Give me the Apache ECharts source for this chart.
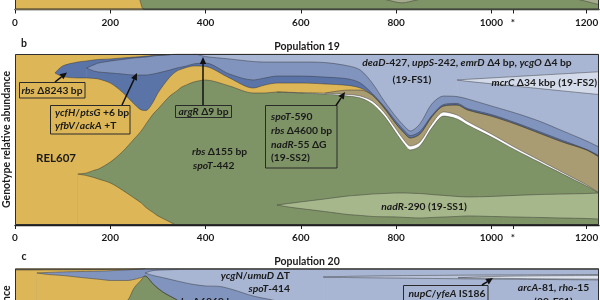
<!DOCTYPE html>
<html><head><meta charset="utf-8">
<script src="https://cdn.jsdelivr.net/npm/echarts@6/dist/echarts.min.js"></script>
<style>html,body{margin:0;padding:0;background:#fff}#c{width:600px;height:300px}</style>
</head><body><div id="c"></div>
<script>
const N = null;
// ---------- Panel a (only its bottom strip is in view) ----------
const gensA = [0,150,230,262,271,300,700,760,781,812,844,870,1100,1170,1187,1210,1226];
const aLightTop    = [14,14,14,14,14,14,14,14,14,14,14,14,14,14,14,14,14];
const aLightBottom = [9,9,9,9,9,9,9,6.8,5.6,3.9,5.6,7.0,8.5,6.5,5.6,4.0,2.9];
const aRel607      = [100,85,30,5.6,0,0,0,0,0,0,0,0,0,0,0,0,0];

// ---------- Panel b : Population 19 (upper boundary of each band, %) ----------
const gensB = [0,84,100,132,150,165,175,200,225,250,265,275,290,300,325,340,350,360,375,400,450,500,525,550,575,600,650,700,725,750,775,800,815,830,850,875,900,928,950,1000,1050,1100,1150,1200,1226];
const bRbs8243Top = [N,88.9,93.0,95.3,95.9,96.5,96.8,97.1,97.7,98.2,98.5,98.8,99.1,99.3,99.6,100,100,100,100,100,100,100,100,100,100,100,100,100,100,100,100,100,100,100,100,100,100,100,100,100,100,100,100,100,100];
const bFs1Top = [N,N,N,N,N,N,N,N,N,N,N,N,N,N,N,N,N,N,100,100,100,100,100,100,100,100,100,100,100,100,100,100,100,100,100,100,100,100,100,100,100,100,100,100,100];
const bFs2Top = [N,N,N,N,N,N,N,N,N,N,N,N,N,N,N,N,N,N,N,N,N,N,N,N,N,N,N,N,N,N,N,N,N,N,N,N,N,84.8,85.2,86.0,86.8,87.6,88.4,89.2,89.6];
const bFs2Bottom = [N,N,N,N,N,N,N,N,N,N,N,N,N,N,N,N,N,N,N,N,N,N,N,N,N,N,N,N,N,N,N,N,N,N,N,N,N,84.8,84.0,82.6,81.2,79.8,78.4,77.0,76.3];
const bYcfhTop = [N,N,N,N,91.8,93.6,94.7,95.9,96.8,97.7,98.0,98.2,98.8,99.1,99.6,100,100,100,100,98.5,97.1,95.6,95.3,95.3,95.3,95.3,95.0,93.0,90.6,83.0,72.5,63.2,58.5,55.0,59.1,70.8,75.4,75.1,73.7,69.6,65.5,60.8,55.0,49.1,45.6];
const bYcfhBottom = [N,N,N,N,91.8,90.1,89.5,88.9,88.3,87.7,87.7,87.7,88.3,88.9,90.6,91.8,92.4,93.0,94.2,94.7,88.3,84.8,86.0,87.1,87.1,87.1,86.5,85.4,83.0,76.9,69.3,60.5,55.8,52.3,54.7,64.0,70.5,71.1,68.1,64.6,59.9,54.7,49.4,44.2,40.6];
const bRel607Mid = [N,88.9,86.8,86.0,86.0,85.7,85.4,83.0,77.8,70.8,67.3,67.0,71.9,77.2,86.5,90.1,91.2,92.1,93.0,92.7,86.0,80.1,81.9,83.0,83.0,83.0,82.5,81.6,80.1,76.0,68.4,59.1,54.4,50.9,53.2,63.2,69.6,70.2,67.3,63.7,59.1,53.8,48.5,43.9,39.8];
const bSs2Top = [N,N,N,N,N,N,N,N,N,N,N,N,N,N,N,N,N,N,N,N,N,N,N,N,N,N,77.1,78.9,78.9,76.0,68.4,59.1,54.4,50.9,53.2,63.2,69.6,70.2,67.3,63.7,59.1,53.8,48.5,43.9,39.8];
const bWhiteTop = [N,N,N,N,N,N,N,N,N,N,N,N,N,N,N,N,N,N,N,N,N,N,N,77.8,77.6,77.4,77.1,76.3,75.4,72.5,65.8,56.1,50.3,46.2,48.5,59.1,66.1,64.3,60.5,53.2,45.3,38.0,30.7,23.4,18.7];
const bGreenTop = [N,N,N,29.8,30.4,31.9,32.7,36.8,42.7,50.3,55.0,59.1,64.9,67.8,75.4,78.4,80.7,81.9,83.6,84.8,81.3,77.2,77.2,77.8,77.5,77.2,76.6,75.4,74.3,70.8,63.7,53.8,48.0,43.9,46.2,56.7,63.7,62.0,58.5,51.5,43.9,36.8,29.8,22.8,18.7];
const bNadrTop = [N,N,N,N,N,N,N,N,N,N,N,N,N,N,N,N,N,N,N,N,N,N,N,11.7,12.6,13.5,15.2,17.0,17.5,18.1,18.4,18.7,18.7,18.6,18.4,17.8,17.3,16.7,16.4,16.7,17.3,17.8,18.1,18.4,18.7];
const bNadrBottom = [N,N,N,N,N,N,N,N,N,N,N,N,N,N,N,N,N,N,N,N,N,N,N,11.7,10.5,9.6,7.9,6.1,5.6,5.0,4.8,4.7,4.5,4.3,4.1,4.4,4.7,5.0,5.3,5.0,4.7,4.4,4.1,3.8,3.5];
const bRel607Low = [N,N,N,29.8,28.9,27.8,26.9,24.6,20.5,15.8,12.9,10.2,7.3,5.3,1.8,0,0,0,0,0,0,0,0,0,0,0,0,0,0,0,0,0,0,0,0,0,0,0,0,0,0,0,0,0,0];

// ---------- Panel c : Population 20 (top part in view) ----------
const gensC = [0,46,70,100,150,180,200,237,250,265,273,290,310,340,370,400,430,460,500,550,600,647,700,800,900,930,1000,1100,1226];
const cStripTop = [100,100,100,100,100,100,100,100,100,100,100,N,N,N,N,N,N,N,N,N,N,N,N,N,N,N,N,N,N];
const cStripBottom = [99.1,99.1,99.2,99.2,99.3,99.4,99.5,99.7,99.8,99.9,100,N,N,N,N,N,N,N,N,N,N,N,N,N,N,N,N,N,N];
const cBlueTop = [N,97.4,97.7,98.0,98.3,98.5,98.7,99.2,99.4,99.7,100,100,100,100,100,100,100,100,100,100,100,100,100,100,100,100,100,100,100];
const cFs1Top = [N,N,N,N,N,N,N,N,N,N,97.4,98.8,99.1,99.4,99.5,99.5,99.5,99.5,99.5,99.5,99.5,99.5,99.5,99.5,99.5,99.5,99.5,99.5,99.5];
const cS1Top = [N,N,N,N,N,N,N,N,N,N,N,N,N,N,N,N,N,N,N,N,N,95.0,95.4,95.8,96.0,96.1,96.2,96.3,96.5];
const cS2Top = [N,N,N,N,N,N,N,N,N,N,N,N,N,N,N,N,N,N,N,N,N,N,N,N,N,94.6,95.3,95.7,95.9];
const cS2Bottom = [N,N,N,N,N,N,N,N,N,N,N,N,N,N,N,N,N,N,N,N,N,N,N,N,N,94.6,94.3,94.0,93.8];
const cS1Bottom = [N,N,N,N,N,N,N,N,N,N,N,N,N,N,N,N,N,N,N,N,N,95.0,94.7,94.4,94.1,94.0,93.8,93.6,93.3];
const cFs1Bottom = [N,N,N,N,N,N,N,N,N,N,97.4,95.9,94.7,92.7,90.9,89.8,89.5,87.4,83.9,81.0,76.9,73,70,65,60,58.5,55,50,45];
const cBlueBottom = [N,97.4,96.5,95.9,94.4,93.6,93.0,93.0,93.6,94.7,95.6,90.9,86.3,81.6,76,72,68,65,60,55,50,47,44,40,36,35,33,30,27];
const cGreenTop = [N,N,N,N,N,65,72,81.6,88.6,93.3,95.6,90.9,86.3,81.6,76,72,68,65,60,55,50,47,44,40,36,35,33,30,27];
const cGreenBottom = [N,N,N,N,N,65,58,48,44,40,38,33,28,20,14,8,3,0,0,0,0,0,0,0,0,0,0,0,0];

const tickVals = [0,200,400,600,800,1000,1045,1200];

// ---------- styling ----------
const YELLOW='#DDB657', GREEN='#7E9366', LGREEN='#A7B78C', LBLUE='#A8B6D3', FS2C='#D3DBEA',
      MBLUE='#8194BE', DBLUE='#5B74A8', TAN='#A99C72', WHITE='#FFFFFF', STRIP='#857D62',
      S1='#BAC5DC', S2='#DDE3EE', ALIGHT='#A5AC8D';
const FONT='Lato';
const series=[];
function band(xi,gens,vals,color,extra){
  series.push(Object.assign({type:'line',xAxisIndex:xi,yAxisIndex:xi,
    data:gens.map((g,i)=>[g,vals[i]==null?'-':vals[i]]),
    symbol:'none',showSymbol:false,smooth:0.3,silent:true,
    lineStyle:{width:0.75,color:'rgba(50,50,50,0.6)'},
    areaStyle:{color:color,opacity:1}},extra||{}));
}
// panel a
band(0,gensA,aLightTop,ALIGHT);
band(0,gensA,aLightBottom,GREEN);
band(0,gensA,aRel607,YELLOW);
// panel b (top band first, lower bands painted over)
band(1,gensB,bRbs8243Top,DBLUE);
band(1,gensB,bFs1Top,LBLUE);
band(1,gensB,bFs2Top,FS2C);
band(1,gensB,bFs2Bottom,LBLUE);
band(1,gensB,bYcfhTop,MBLUE);
band(1,gensB,bYcfhBottom,DBLUE);
band(1,gensB,bRel607Mid,YELLOW);
band(1,gensB,bSs2Top,TAN);
band(1,gensB,bWhiteTop,WHITE);
band(1,gensB,bGreenTop,GREEN);
band(1,gensB,bNadrTop,LGREEN);
band(1,gensB,bNadrBottom,GREEN);
band(1,gensB,bRel607Low,YELLOW);
// panel c
band(2,gensC,cStripTop,STRIP,{lineStyle:{width:0}});
band(2,gensC,cStripBottom,YELLOW);
band(2,gensC,cBlueTop,MBLUE);
band(2,gensC,cFs1Top,LBLUE);
band(2,gensC,cS1Top,S1);
band(2,gensC,cS2Top,S2);
band(2,gensC,cS2Bottom,S1);
band(2,gensC,cS1Bottom,LBLUE);
band(2,gensC,cFs1Bottom,MBLUE);
band(2,gensC,cBlueBottom,YELLOW);
band(2,gensC,cGreenTop,GREEN);
band(2,gensC,cGreenBottom,YELLOW);

const tops=[-161.5,54,268.5], bgs=[GREEN,YELLOW,YELLOW];
const grids=tops.map((t,i)=>({left:15,top:t,width:584,height:171,show:true,backgroundColor:bgs[i],borderWidth:0,
  containLabel:false,outerBoundsMode:'none'}));
const xAxes=tops.map((t,i)=>({gridIndex:i,type:'value',min:0,max:1226,
  splitLine:{show:false},
  axisLine:{lineStyle:{color:'#1e1e1e',width:1.4}},
  axisTick:{customValues:tickVals,length:4,lineStyle:{color:'#1e1e1e',width:1}},
  axisLabel:{customValues:tickVals,formatter:v=>v===1045?'*':String(v),margin:8,
    color:'#1a1a1a',fontFamily:FONT,fontWeight:'bold',fontSize:10}}));
const yAxes=tops.map((t,i)=>({gridIndex:i,type:'value',min:0,max:100,
  axisLine:{show:false},axisTick:{show:false},axisLabel:{show:false},splitLine:{show:false},
  name:'Genotype relative abundance',nameLocation:'middle',nameGap:3,nameRotate:90,
  nameTextStyle:{fontFamily:FONT,fontWeight:'bold',fontSize:10.5,color:'#1a1a1a'}}));

function T(x,y,text,align,opt){
  return {type:'text',x:x,y:y,z:100,silent:true,style:Object.assign({text:text,align:align||'center',verticalAlign:'middle',
    fill:'#1a1a1a',fontFamily:FONT,fontWeight:'bold',fontSize:10.3,
    rich:{i:{fontStyle:'italic',fontWeight:'bold',fontFamily:FONT,fontSize:10.3,fill:'#1a1a1a'}}},opt||{})};
}
function R(x,y,w,h,fill){
  return {type:'rect',z:99,silent:true,shape:{x:x,y:y,width:w,height:h},style:{fill:fill,stroke:'#2a2a2a',lineWidth:1}};
}
function A(x1,y1,x2,y2){
  const a=Math.atan2(y2-y1,x2-x1),L=7,W=3.2;
  const bx=x2-L*Math.cos(a),by=y2-L*Math.sin(a),px=-Math.sin(a),py=Math.cos(a);
  return [{type:'line',z:101,silent:true,shape:{x1:x1,y1:y1,x2:bx,y2:by},style:{stroke:'#111',lineWidth:1.5}},
          {type:'polygon',z:101,silent:true,shape:{points:[[x2,y2],[bx+px*W,by+py*W],[bx-px*W,by-py*W]]},style:{fill:'#111'}}];
}
const frames=tops.map(t=>({type:'rect',z:98,silent:true,shape:{x:15.5,y:t+0.5,width:583,height:170},style:{fill:null,stroke:'#2e2e2e',lineWidth:1}}));
const TT={fontSize:10.5};
const graphics=[].concat(frames,[
  T(307,47,'Population 19','center',TT), T(24,43.5,'b','center',TT),
  T(307,261.5,'Population 20','center',TT), T(24,256.5,'c','center',TT),
  // panel b annotations
  R(19.5,82.5,65.5,15.5,YELLOW), T(52,90.5,'{i|rbs} Δ8243 bp'),
  R(50.5,105.5,79.5,28.5,YELLOW), T(55,113,'{i|ycfH}/{i|ptsG} +6 bp','left'), T(55,126,'{i|yfbV}/{i|ackA} +T','left'),
  R(175.5,105.5,56,12,GREEN), T(203.5,111.5,'{i|argR} Δ9 bp'),
  R(265.5,105.5,71.5,62.5,GREEN),
  T(271,117,'{i|spoT}-590','left'), T(271,131,'{i|rbs} Δ4600 bp','left'),
  T(271,145,'{i|nadR}-55 ΔG','left'), T(271,158,'(19-SS2)','left'),
  T(56,158,'REL607','center',{fontSize:11.5}),
  T(192,152,'{i|rbs} Δ155 bp','left'), T(193,166,'{i|spoT}-442','left'),
  T(467,63,'{i|deaD}-427, {i|uppS}-242, {i|emrD} Δ4 bp, {i|ycgO} Δ4 bp'),
  T(412,80,'(19-FS1)'),
  T(597,82.5,'{i|mcrC} Δ34 kbp (19-FS2)','right'),
  T(424,207,'{i|nadR}-290 (19-SS1)'),
  // panel c annotations
  T(290,275.5,'{i|ycgN}/{i|umuD} ΔT','right'), T(290,289,'{i|spoT}-414','right'),
  T(177,301.5,'{i|rbs} Δ6869 bp','left'),
  R(403.5,285.5,84.5,30,LBLUE), T(447,293.5,'{i|nupC}/{i|yfeA} IS186'),
  T(553.5,288,'{i|arcA}-81, {i|rho}-15'), T(553.5,301.5,'(20-FS1)')
], A(55,82,67,72.5), A(122,105,137,73), A(203,105,203,57), A(336,105.5,345,92), A(482,285,493,278));

const chart=echarts.init(document.getElementById('c'),null,{renderer:'canvas'});
chart.setOption({animation:false,backgroundColor:'#fff',grid:grids,xAxis:xAxes,yAxis:yAxes,series:series,graphic:{elements:graphics}});
</script></body></html>
